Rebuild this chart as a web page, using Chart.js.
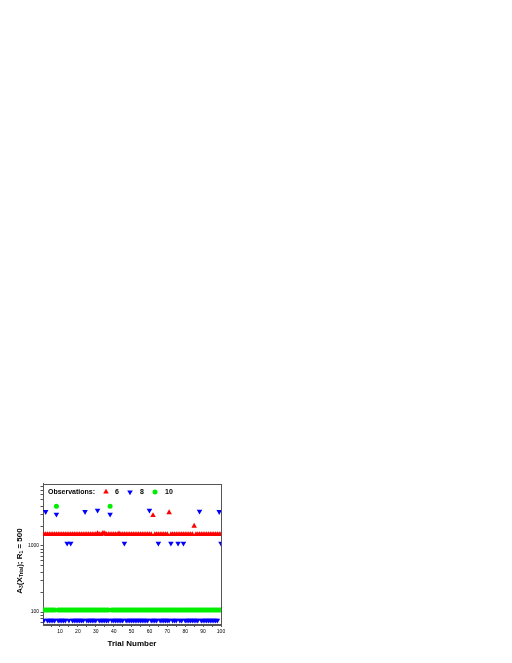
<!DOCTYPE html>
<html><head><meta charset="utf-8">
<script src="https://cdn.jsdelivr.net/npm/chart.js@4/dist/chart.umd.min.js"></script>
<style>html,body{margin:0;padding:0;background:#fff;overflow:hidden}#c{position:absolute;left:0;top:0}</style>
</head><body><canvas id="c" width="512" height="663"></canvas>
<script>
const trials = [1,2,3,4,5,6,7,8,9,10,11,12,13,14,15,16,17,18,19,20,21,22,23,24,25,26,27,28,29,30,31,32,33,34,35,36,37,38,39,40,41,42,43,44,45,46,47,48,49,50,51,52,53,54,55,56,57,58,59,60,61,62,63,64,65,66,67,68,69,70,71,72,73,74,75,76,77,78,79,80,81,82,83,84,85,86,87,88,89,90,91,92,93,94,95,96,97,98,99,100];
const obs6 = [
 1500,1500,1500,1500,1500,1500,1500,1500,1500,1500,
 1500,1500,1500,1500,1500,1500,1500,1500,1500,1500,
 1500,1500,1500,1500,1500,1500,1500,1500,1500,1500,
 1540,1500,1500,1560,1550,1500,1500,1500,1500,1500,
 1500,1500,1530,1500,1500,1500,1500,1500,1500,1500,
 1500,1500,1500,1500,1500,1500,1500,1500,1500,1500,
 1500,2900,1500,1500,1500,1500,1500,1500,1500,1500,
 3200,1500,1500,1500,1500,1500,1500,1500,1500,1500,
 1500,1500,1500,1500,2000,1500,1500,1500,1500,1500,
 1500,1500,1500,1500,1500,1500,1500,1500,1500,1500];
const obs8 = [
 75,3300,75,75,75,75,75,3000,75,75,
 75,75,75,1100,75,1100,75,75,75,75,
 75,75,75,3300,75,75,75,75,75,75,
 3450,75,75,75,75,75,75,3000,75,75,
 75,75,75,75,75,1100,75,75,75,75,
 75,75,75,75,75,75,75,75,75,3450,
 75,75,75,75,1100,75,75,75,75,75,
 75,1100,75,75,75,1100,75,75,1100,75,
 75,75,75,75,75,75,75,3350,75,75,
 75,75,75,75,75,75,75,75,3300,1100];
const obs10 = [
 108,108,108,108,108,108,108,4000,108,108,
 108,108,108,108,108,108,108,108,108,108,
 108,108,108,108,108,108,108,108,108,108,
 108,108,108,108,108,108,108,4000,108,108,
 108,108,108,108,108,108,108,108,108,108,
 108,108,108,108,108,108,108,108,108,108,
 108,108,108,108,108,108,108,108,108,108,
 108,108,108,108,108,108,108,108,108,108,
 108,108,108,108,108,108,108,108,108,108,
 108,108,108,108,108,108,108,108,108,108];
const seriesLabels = ['6','8','10'];
const xTickValues = [5,10,15,20,25,30,35,40,45,50,55,60,65,70,75,80,85,90,95,100];
const xTickLabels = ['10','20','30','40','50','60','70','80','90','100'];
const yTickValues = [70,80,90,100,200,300,400,500,600,700,800,900,1000,2000,3000,4000,5000,6000,7000,8000];
const yTickLabels = ['100','1000'];
const xTitle = 'Trial Number';
const legendTitle = 'Observations:';

const FONT = "'Liberation Sans', Arial, sans-serif";
const AX = '#555';

function pts(arr){ return trials.map((t,i)=>({x:t,y:arr[i]})); }

const datasets = [
 {label:seriesLabels[0], data:pts(obs6), pointStyle:'triangle', rotation:0, pointRadius:3.2, backgroundColor:'#ff0000', borderColor:'#ff0000', borderWidth:0},
 {label:seriesLabels[1], data:pts(obs8), pointStyle:'triangle', rotation:180, pointRadius:3.2, backgroundColor:'#0000ff', borderColor:'#0000ff', borderWidth:0},
 {label:seriesLabels[2], data:pts(obs10), pointStyle:'circle', rotation:0, pointRadius:2.5, backgroundColor:'#00ee00', borderColor:'#00ee00', borderWidth:0}
];
datasets.forEach(d=>{d.showLine=false; d.pointHoverRadius=d.pointRadius; d.pointRotation=d.rotation;});

const deco = {
 id:'deco',
 beforeDatasetsDraw(chart){
   const {ctx, chartArea:a} = chart;
   ctx.save(); ctx.strokeStyle = AX; ctx.lineWidth = 1;
   ctx.strokeRect(Math.round(a.left)+0.5, Math.round(a.top)+0.5, Math.round(a.right-a.left), Math.round(a.bottom-a.top));
   ctx.restore();
 },
 afterDraw(chart){
   const ctx = chart.ctx; const a = chart.chartArea;
   ctx.save();
   ctx.fillStyle = '#000';
   ctx.font = 'bold 8px ' + FONT; ctx.textAlign='center'; ctx.textBaseline='middle';
   ctx.fillText(xTitle, (a.left+a.right)/2, 644);
   ctx.save();
   ctx.translate(20, (a.top+a.bottom)/2 + 7);
   ctx.rotate(-Math.PI/2);
   const segs = [['A',0],['3',1],['(X',0],['Trial',1],['); R',0],['1',1],[' = 500',0]];
   const fMain = 'bold 8px ' + FONT, fSub = 'bold 5px ' + FONT;
   let tot = 0;
   segs.forEach(s=>{ctx.font = s[1]?fSub:fMain; tot += ctx.measureText(s[0]).width;});
   let x = -tot/2;
   ctx.textAlign='left'; ctx.textBaseline='middle';
   segs.forEach(s=>{ctx.font = s[1]?fSub:fMain; ctx.fillText(s[0], x, s[1]?2:0); x += ctx.measureText(s[0]).width;});
   ctx.restore();
   const ly = a.top + 8.5;
   ctx.font = 'bold 7px ' + FONT; ctx.textAlign='left'; ctx.textBaseline='middle';
   ctx.fillText(legendTitle, 48, ly);
   const mx = [106,130,155], tx = [115,140,165];
   chart.data.datasets.forEach((d,i)=>{
     ctx.fillStyle = d.backgroundColor;
     Chart.helpers.drawPoint(ctx, {pointStyle:d.pointStyle, rotation:d.rotation, radius:d.pointRadius, borderWidth:0}, mx[i], ly);
     ctx.fillStyle = '#000';
     ctx.fillText(d.label, tx[i], ly);
   });
   ctx.restore();
 }
};

new Chart(document.getElementById('c'), {
 type:'scatter',
 data:{datasets},
 options:{
  responsive:false, animation:false, devicePixelRatio:1, events:[],
  layout:{padding:{left:0, top:483.5, right:291, bottom:26.5}},
  plugins:{legend:{display:false}, tooltip:{enabled:false}},
  scales:{
   x:{type:'linear', min:0.5, max:100,
      afterBuildTicks:s=>{s.ticks = xTickValues.map(v=>({value:v}));},
      afterFit:s=>{s.height=12;},
      ticks:{autoSkip:false, maxRotation:0, color:'#000', padding:2, font:{family:FONT, size:5},
             callback:v=> xTickLabels.includes(String(v)) ? String(v) : ''},
      grid:{drawOnChartArea:false, tickLength:2.5, color:AX},
      border:{color:AX, width:1}},
   y:{type:'logarithmic', min:65, max:8800,
      afterBuildTicks:s=>{s.ticks = yTickValues.map(v=>({value:v}));},
      afterFit:s=>{s.width=43;},
      ticks:{autoSkip:false, color:'#000', padding:1.5, font:{family:FONT, size:5},
             callback:v=> yTickLabels.includes(String(v)) ? String(v) : ''},
      grid:{drawOnChartArea:false, tickLength:2.5, color:AX},
      border:{color:AX, width:1}}
  }
 },
 plugins:[deco]
});
</script></body></html>
